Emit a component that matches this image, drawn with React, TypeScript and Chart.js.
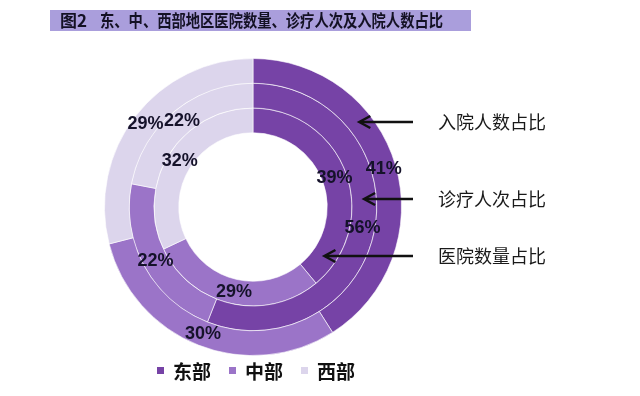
import React, { useEffect, useRef } from 'react';
import { Chart, registerables } from 'chart.js';

Chart.register(...registerables);

// ---- data ----
const regions = ['东部', '中部', '西部'];
const ringLabels = ['入院人数占比', '诊疗人次占比', '医院数量占比'];
const admissionShare = [41, 30, 29]; // outer ring
const visitShare = [56, 22, 22]; // middle ring
const hospitalShare = [39, 29, 32]; // inner ring
const titleText = '图2';
const titleRest = '东、中、西部地区医院数量、诊疗人次及入院人数占比';

// ---- styles ----
const regionColors = ['#7643a6', '#9b74c8', '#dcd5ec'];
const CJK = '"Noto Sans CJK SC", "Noto Sans", sans-serif';

const decorPlugin = {
  id: 'decor',
  beforeDraw(chart: any) {
    const { ctx, width, height } = chart;
    ctx.save();
    ctx.fillStyle = '#ffffff';
    ctx.fillRect(0, 0, width, height);
    // title bar
    ctx.fillStyle = '#aa9edc';
    ctx.fillRect(50, 10, 421, 21);
    ctx.fillStyle = '#141124';
    ctx.font = `bold 17px ${CJK}`;
    ctx.textBaseline = 'middle';
    ctx.textAlign = 'left';
    ctx.fillText(titleText, 60, 21);
    ctx.fillText(titleRest, 100, 21, 343);
    ctx.restore();
  },
  afterDatasetsDraw(chart: any) {
    const { ctx } = chart;
    ctx.save();
    // percentage labels at arc centroids
    ctx.font = 'bold 18px "Liberation Sans", Arial, sans-serif';
    ctx.fillStyle = '#15122a';
    ctx.textAlign = 'center';
    ctx.textBaseline = 'middle';
    chart.data.datasets.forEach((ds: any, i: number) => {
      const meta = chart.getDatasetMeta(i);
      meta.data.forEach((arc: any, j: number) => {
        const p = arc.getProps(['x', 'y', 'startAngle', 'endAngle', 'innerRadius', 'outerRadius'], true);
        const a = (p.startAngle + p.endAngle) / 2;
        const r = (p.innerRadius + p.outerRadius) / 2;
        ctx.fillText(ds.data[j] + '%', p.x + Math.cos(a) * r, p.y + Math.sin(a) * r);
      });
    });

    // arrows + ring names
    const arrowDy = [-85, -8, 49];
    const tailX = 413;
    const textX = 438;
    ctx.strokeStyle = '#111111';
    ctx.lineWidth = 2.5;
    ctx.fillStyle = '#1a1a1a';
    ctx.font = `18px ${CJK}`;
    ctx.textAlign = 'left';
    chart.data.datasets.forEach((ds: any, i: number) => {
      const arc: any = chart.getDatasetMeta(i).data[0];
      const p = arc.getProps(['x', 'y', 'innerRadius', 'outerRadius'], true);
      const rm = (p.innerRadius + p.outerRadius) / 2;
      const dy = arrowDy[i];
      const tipX = p.x + Math.sqrt(Math.max(rm * rm - dy * dy, 0));
      const y = p.y + dy;
      ctx.beginPath();
      ctx.moveTo(tailX, y);
      ctx.lineTo(tipX + 1, y);
      ctx.stroke();
      ctx.beginPath();
      ctx.moveTo(tipX + 11, y - 6);
      ctx.lineTo(tipX, y);
      ctx.lineTo(tipX + 11, y + 6);
      ctx.stroke();
      ctx.fillText(ds.label, textX, y);
    });

    // legend
    ctx.font = `bold 19px ${CJK}`;
    ctx.textBaseline = 'middle';
    let x = 157;
    const ly = 371;
    regions.forEach((name, k) => {
      ctx.fillStyle = regionColors[k];
      ctx.fillRect(x, ly - 4, 7, 7);
      x += 16;
      ctx.fillStyle = '#111111';
      ctx.fillText(name, x, ly + 1);
      x += ctx.measureText(name).width + 18;
    });
    ctx.restore();
  },
};

export default function App() {
  const ref = useRef<HTMLCanvasElement>(null);
  useEffect(() => {
    if (!ref.current) return;
    const ringData = [admissionShare, visitShare, hospitalShare];
    const chart = new Chart(ref.current, {
      type: 'doughnut',
      data: {
        labels: regions,
        datasets: ringData.map((d, i) => ({
          label: ringLabels[i],
          data: d,
          backgroundColor: regionColors,
          borderColor: 'rgba(255,255,255,0.6)',
          borderWidth: 1,
        })),
      },
      options: {
        responsive: false,
        animation: false,
        cutout: '50%',
        layout: { padding: { top: 58, bottom: 40, left: 104, right: 238 } },
        plugins: {
          legend: { display: false },
          tooltip: { enabled: false },
          title: { display: false },
        },
      },
      plugins: [decorPlugin],
    });
    return () => chart.destroy();
  }, []);
  return (
    <div style={{ position: 'fixed', left: 0, top: 0, width: 640, height: 396, background: '#fff' }}>
      <canvas ref={ref} width={640} height={396} style={{ display: 'block' }} />
    </div>
  );
}
